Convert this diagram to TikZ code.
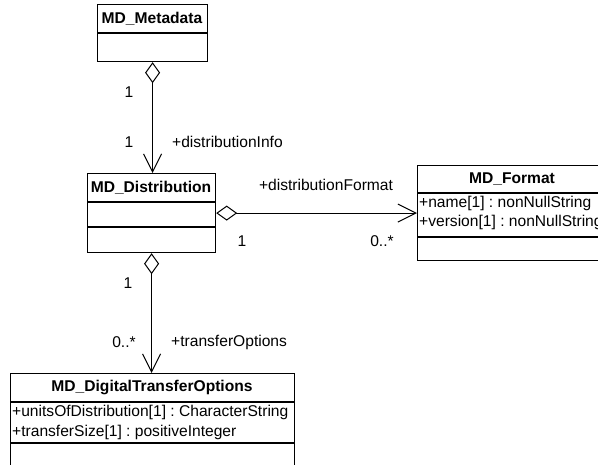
\documentclass[tikz,border=0pt]{standalone}
\usepackage{fontspec}
\setmainfont{Liberation Sans}
\usetikzlibrary{arrows.meta}
\frenchspacing
\begin{document}
\begin{tikzpicture}[x=1pt,y=-1pt,
  lbl/.style={inner sep=0pt,font=\fontsize{15.6}{18}\selectfont},
  ttl/.style={inner sep=0pt,font=\fontsize{15.6}{18}\selectfont\bfseries},
  cbox/.style={draw,line width=1.2pt,inner sep=0pt,anchor=north west},
  div/.style={line width=1.2pt},
  assoc/.style={line width=1pt,
    {Diamond[open,fill=white,length=21pt,width=15pt]}-{Straight Barb[length=18pt,width=18pt,line width=1pt]}}
]
\useasboundingbox (0,0) rectangle (598,465);
\begin{scope}
\clip (0,0) rectangle (598,465);
% MD_Metadata
\node[cbox,minimum width=110pt,minimum height=57pt] (meta) at (97,4) {};
\draw[div] (97,33) -- (207,33);
\node[ttl] (metat) at (152,19) {MD\_Metadata};
% MD_Distribution
\node[cbox,minimum width=128pt,minimum height=79pt] (dist) at (87,173) {};
\draw[div] (87,202) -- (215,202);
\draw[div] (87,227) -- (215,227);
\node[ttl] (distt) at (151,188) {MD\_Distribution};
% MD_Format
\node[cbox,minimum width=190pt,minimum height=95pt] (fmt) at (417,165) {};
\draw[div] (417,193) -- (607,193);
\draw[div] (417,237) -- (607,237);
\node[ttl] (fmtt) at (512,179) {MD\_Format};
\node[lbl,anchor=west] (fmta1) at (419,203) {+name[1] : nonNullString};
\node[lbl,anchor=west] (fmta2) at (419,222) {+version[1] : nonNullString};
% MD_DigitalTransferOptions
\node[cbox,minimum width=284pt,minimum height=110pt] (dto) at (10,373) {};
\draw[div] (10,402) -- (294,402);
\draw[div] (10,443) -- (294,443);
\node[ttl] (dtot) at (152,388) {MD\_DigitalTransferOptions};
\node[lbl,anchor=west] (dtoa1) at (12,412) {+unitsOfDistribution[1] : CharacterString};
\node[lbl,anchor=west] (dtoa2) at (12,432) {+transferSize[1] : positiveInteger};
\end{scope}
% connectors
\draw[assoc] (meta.south) -- (meta.south |- dist.north);
\draw[assoc] (dist.east) -- (fmt.west);
\draw[assoc] (dist.south) -- (dist.south |- dto.north);
% labels
\node[lbl] (m1) at (129,92) {1};
\node[lbl] (m2) at (129,142) {1};
\node[lbl,anchor=west] (r1) at (172,142) {+distributionInfo};
\node[lbl] (f0) at (326,185) {+distributionFormat};
\node[lbl] (f1) at (242,241) {1};
\node[lbl] (f2) at (382,241) {0..*};
\node[lbl] (d1) at (128,283) {1};
\node[lbl] (d2) at (124,342) {0..*};
\node[lbl,anchor=west] (r3) at (171,342) {+transferOptions};
\end{tikzpicture}
\end{document}
